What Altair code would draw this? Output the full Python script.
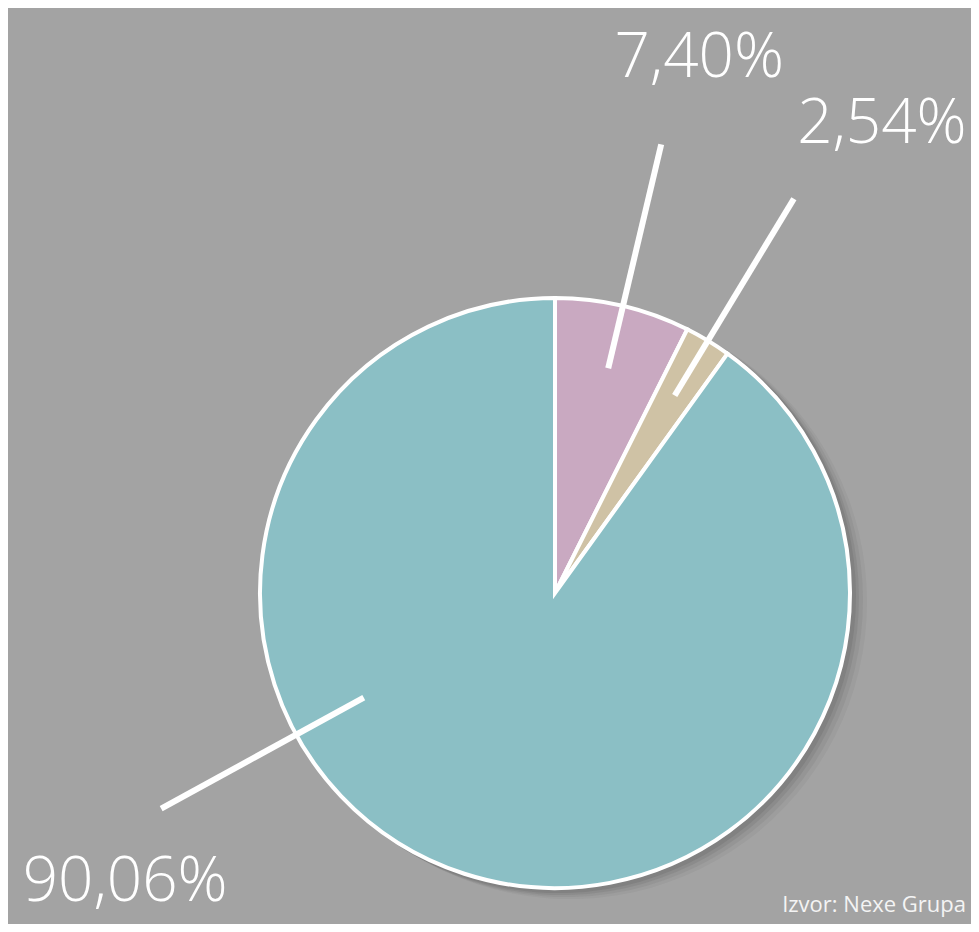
import altair as alt
import pandas as pd

# ---- data ----
labels = ["7,40%", "2,54%", "90,06%"]
values = [7.40, 2.54, 90.06]
colors = ["#c9a9c1", "#cfc2a5", "#8bbfc5"]
source_text = "Izvor: Nexe Grupa"

# ---- layout / style (not data) ----
W, H = 963, 916
CX, CY = 547, 585
R = 295
teal_leader_angle = 241.3  # the 90,06% leader does not sit on its slice's middle

df = pd.DataFrame({"label": labels, "value": values, "idx": list(range(len(labels)))})

base = alt.Chart(df)

shadows = []
for off, op in [((15, 9), 0.06), ((11, 7), 0.08), ((7, 5), 0.1), ((4, 3), 0.12)]:
    shadows.append(
        base.mark_arc(outerRadius=R + 2, fill="#3c3c3c", opacity=op).encode(
            theta=alt.Theta("value:Q", stack=True),
            order=alt.Order("idx:Q"),
            x=alt.value(CX + off[0]),
            y=alt.value(CY + off[1]),
        )
    )

pie = base.mark_arc(outerRadius=R, stroke="white", strokeWidth=4).encode(
    theta=alt.Theta("value:Q", stack=True),
    color=alt.Color("label:N", scale=alt.Scale(domain=labels, range=colors), legend=None),
    order=alt.Order("idx:Q"),
    x=alt.value(CX),
    y=alt.value(CY),
)

geo = base.transform_window(
    cum="sum(value)", sort=[alt.SortField("idx")], frame=[None, 0]
).transform_joinaggregate(
    total="sum(value)"
).transform_calculate(
    mid="(datum.cum - datum.value / 2) / datum.total * 360"
).transform_calculate(
    ang=f"(datum.idx == 2 ? {teal_leader_angle} : datum.mid) * PI / 180",
    r0="datum.idx == 2 ? 218 : 231",
    r1="datum.idx == 2 ? 449 : 461",
).transform_calculate(
    x0=f"{CX} + datum.r0 * sin(datum.ang)",
    y0=f"{CY} - datum.r0 * cos(datum.ang)",
    x1=f"{CX} + datum.r1 * sin(datum.ang)",
    y1=f"{CY} - datum.r1 * cos(datum.ang)",
)

leaders = geo.mark_rule(color="white", strokeWidth=6, strokeCap="butt").encode(
    x=alt.X("x0:Q", scale=None, axis=None),
    y=alt.Y("y0:Q", scale=None, axis=None),
    x2="x1:Q",
    y2="y1:Q",
)

offsets = [(38, -67), (88, -56), (-36, 92)]
texts = []
for i, (dx, dy) in enumerate(offsets):
    texts.append(
        geo.transform_filter(f"datum.idx == {i}")
        .mark_text(
            font="Open Sans", fontSize=62, fontWeight=300, color="white",
            align="center", baseline="alphabetic", dx=dx, dy=dy,
        )
        .encode(
            x=alt.X("x1:Q", scale=None, axis=None),
            y=alt.Y("y1:Q", scale=None, axis=None),
            text="label:N",
        )
    )

src = alt.Chart(pd.DataFrame({"t": [source_text]})).mark_text(
    font="Open Sans", fontSize=22, color="#f4f4f4", align="right", baseline="alphabetic"
).encode(x=alt.value(958), y=alt.value(904), text="t:N")

chart = alt.layer(*shadows, pie, leaders, *texts, src).properties(
    width=W, height=H, padding=0, autosize=alt.AutoSizeParams(type="none"),
    background="#a3a3a3",
).configure_view(stroke=None)

chart.save("out.html", embed_options={"renderer": "svg", "actions": False})
